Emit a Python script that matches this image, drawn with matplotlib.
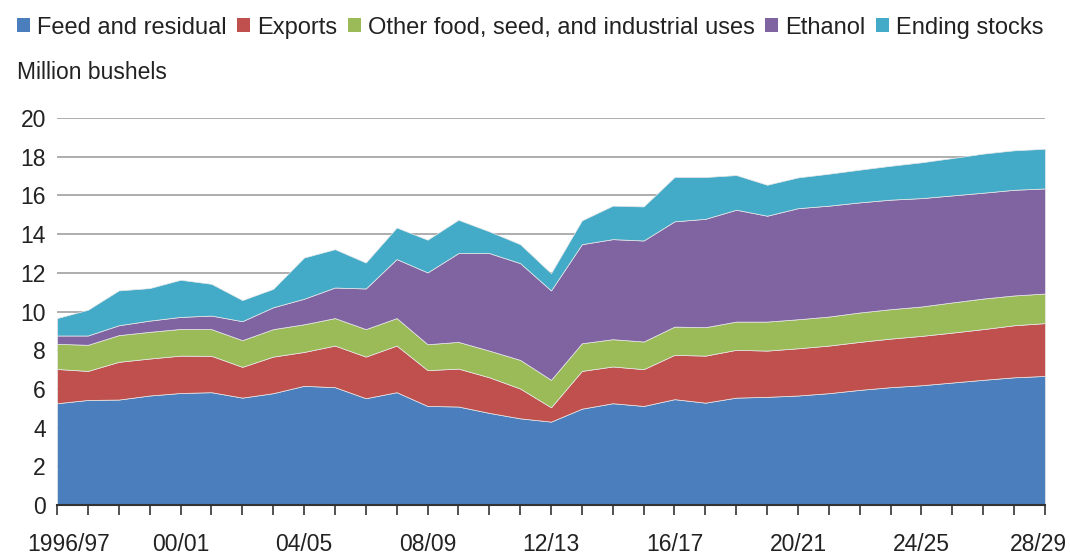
import matplotlib
matplotlib.use("Agg")
import matplotlib.pyplot as plt
from matplotlib.patches import Patch
from matplotlib.transforms import ScaledTranslation
import numpy as np

plt.rcParams['font.family'] = ['Liberation Sans', 'DejaVu Sans']

# marketing years 1996/97 .. 2028/29
years = ['1996/97'] + ['%02d/%02d' % (y % 100, (y + 1) % 100) for y in range(1997, 2029)]

feed = [5.26, 5.43, 5.45, 5.66, 5.79, 5.83, 5.55, 5.78, 6.16, 6.09,
        5.52, 5.83, 5.12, 5.09, 4.76, 4.48, 4.31, 4.98, 5.26, 5.12,
        5.47, 5.29, 5.55, 5.59, 5.66, 5.78, 5.95, 6.09, 6.19, 6.33,
        6.47, 6.60, 6.67]
exports = [1.77, 1.50, 1.95, 1.91, 1.93, 1.88, 1.59, 1.89, 1.75, 2.15,
           2.15, 2.41, 1.85, 1.96, 1.84, 1.54, 0.74, 1.95, 1.90, 1.90,
           2.29, 2.43, 2.47, 2.39, 2.44, 2.46, 2.48, 2.51, 2.55, 2.58,
           2.62, 2.69, 2.73]
other = [1.30, 1.35, 1.38, 1.38, 1.38, 1.38, 1.38, 1.42, 1.43, 1.42,
         1.42, 1.42, 1.34, 1.38, 1.38, 1.48, 1.42, 1.43, 1.41, 1.43,
         1.46, 1.47, 1.46, 1.50, 1.50, 1.50, 1.52, 1.52, 1.52, 1.56,
         1.58, 1.54, 1.53]
ethanol = [0.43, 0.48, 0.51, 0.58, 0.62, 0.70, 0.98, 1.13, 1.32, 1.58,
           2.10, 3.05, 3.71, 4.59, 5.04, 5.00, 4.62, 5.12, 5.17, 5.22,
           5.44, 5.60, 5.78, 5.47, 5.74, 5.73, 5.69, 5.66, 5.60, 5.53,
           5.47, 5.46, 5.43]
stocks = [0.90, 1.33, 1.80, 1.68, 1.92, 1.64, 1.09, 0.95, 2.13, 1.98,
          1.34, 1.63, 1.69, 1.72, 1.12, 0.98, 0.89, 1.23, 1.73, 1.76,
          2.29, 2.16, 1.79, 1.60, 1.59, 1.65, 1.69, 1.75, 1.85, 1.93,
          2.02, 2.04, 2.05]

labels = ['Feed and residual', 'Exports', 'Other food, seed, and industrial uses',
          'Ethanol', 'Ending stocks']
colors = ['#4a7ebc', '#c0504d', '#9bbb59', '#8064a2', '#43abc8']

fig = plt.figure(figsize=(10.7, 5.54), dpi=100)
ax = fig.add_axes([0.0533, 0.0884, 0.9233, 0.6986])

x = np.arange(len(years))
ax.stackplot(x, feed, exports, other, ethanol, stocks, colors=colors,
             edgecolor='#e8e8e8', linewidth=0.5, zorder=2)

ax.set_xlim(0, len(years) - 1)
ax.set_ylim(0, 20)
ax.set_yticks(range(0, 21, 2))
ax.grid(axis='y', color='#a0a0a0', linewidth=1.2, zorder=0)
ax.set_axisbelow(True)

ax.set_xticks(x)
ax.set_xticklabels([y if i % 4 == 0 else '' for i, y in enumerate(years)])
ax.tick_params(axis='x', length=7, width=1.2, color='#333333', pad=13,
               labelsize=16.5, labelcolor='#222222')
ax.tick_params(axis='y', length=0, pad=8, labelsize=16.5, labelcolor='#222222')

# nudge the end labels inward so they stay on the canvas
xt = ax.get_xticklabels()
xt[0].set_transform(xt[0].get_transform() + ScaledTranslation(8 / 72, 0, fig.dpi_scale_trans))
xt[-1].set_transform(xt[-1].get_transform() + ScaledTranslation(-5 / 72, 0, fig.dpi_scale_trans))

for s in ['top', 'right', 'left']:
    ax.spines[s].set_visible(False)
ax.spines['bottom'].set_color('#333333')
ax.spines['bottom'].set_linewidth(1.5)
ax.spines['bottom'].set_zorder(3)

handles = [Patch(facecolor=c, edgecolor='none') for c in colors]
fig.legend(handles, labels, loc='upper left', bbox_to_anchor=(0.0, 1.0),
           ncol=5, frameon=False, fontsize=17, handlelength=0.55,
           handleheight=0.55, handletextpad=0.3, columnspacing=0.45,
           borderaxespad=0.3, labelcolor='#222222')

fig.text(0.016, 0.87, 'Million bushels', fontsize=16.5, color='#222222',
         va='center', ha='left')

fig.savefig('out.png', dpi=100)
